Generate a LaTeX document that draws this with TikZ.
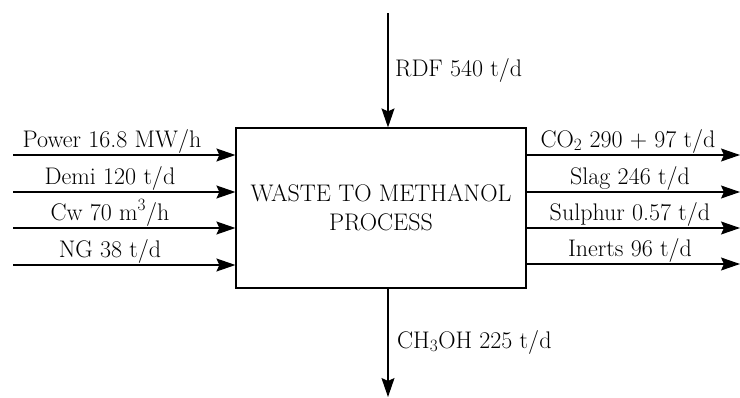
\documentclass[tikz,border=0pt]{standalone}
\usetikzlibrary{arrows.meta}
\begin{document}
\begin{tikzpicture}[x=1pt,y=-1pt,
  flow/.style={draw=black, line width=1.2pt, -{Stealth[length=19pt,width=13pt,inset=3pt]}},
  lab/.style={font=\fontsize{24}{28}\selectfont, inner sep=0pt},
  proc/.style={draw=black, line width=1.2pt, minimum width=290pt, minimum height=160pt, align=center, font=\fontsize{24}{29}\selectfont}]
\useasboundingbox (0,0) rectangle (740,397);
\node[proc] (box) at (381,208) {WASTE TO METHANOL\\PROCESS};
% inputs left
\coordinate (i1) at (13,155);
\coordinate (i2) at (13,192);
\coordinate (i3) at (13,228);
\coordinate (i4) at (13,265);
\draw[flow] (i1) -- (box.west |- i1);
\draw[flow] (i2) -- (box.west |- i2);
\draw[flow] (i3) -- (box.west |- i3);
\draw[flow] (i4) -- (box.west |- i4);
\node[lab, anchor=base] (l1) at (112,147) {Power 16.8 MW/h};
\node[lab, anchor=base] (l2) at (110,184) {Demi 120 t/d};
\node[lab, anchor=base] (l3) at (110,220) {Cw 70 m$^3$/h};
\node[lab, anchor=base] (l4) at (110,257) {NG 38 t/d};
% outputs right
\coordinate (o1) at (740,155);
\coordinate (o2) at (740,192);
\coordinate (o3) at (740,228);
\coordinate (o4) at (740,264);
\draw[flow] (box.east |- o1) -- (o1);
\draw[flow] (box.east |- o2) -- (o2);
\draw[flow] (box.east |- o3) -- (o3);
\draw[flow] (box.east |- o4) -- (o4);
\node[lab, anchor=base] (r1) at (628,147) {CO$_2$ 290 + 97 t/d};
\node[lab, anchor=base] (r2) at (630,184) {Slag 246 t/d};
\node[lab, anchor=base] (r3) at (630,220) {Sulphur 0.57 t/d};
\node[lab, anchor=base] (r4) at (630,256) {Inerts 96 t/d};
% top and bottom
\coordinate (t) at (388,13);
\coordinate (b) at (388,397);
\draw[flow] (t) -- (box.north -| t);
\draw[flow] (box.south -| b) -- (b);
\node[lab, anchor=west] (rdf) at (395,70) {RDF 540 t/d};
\node[lab, anchor=west] (meth) at (397,342) {CH$_3$OH 225 t/d};
\end{tikzpicture}
\end{document}
